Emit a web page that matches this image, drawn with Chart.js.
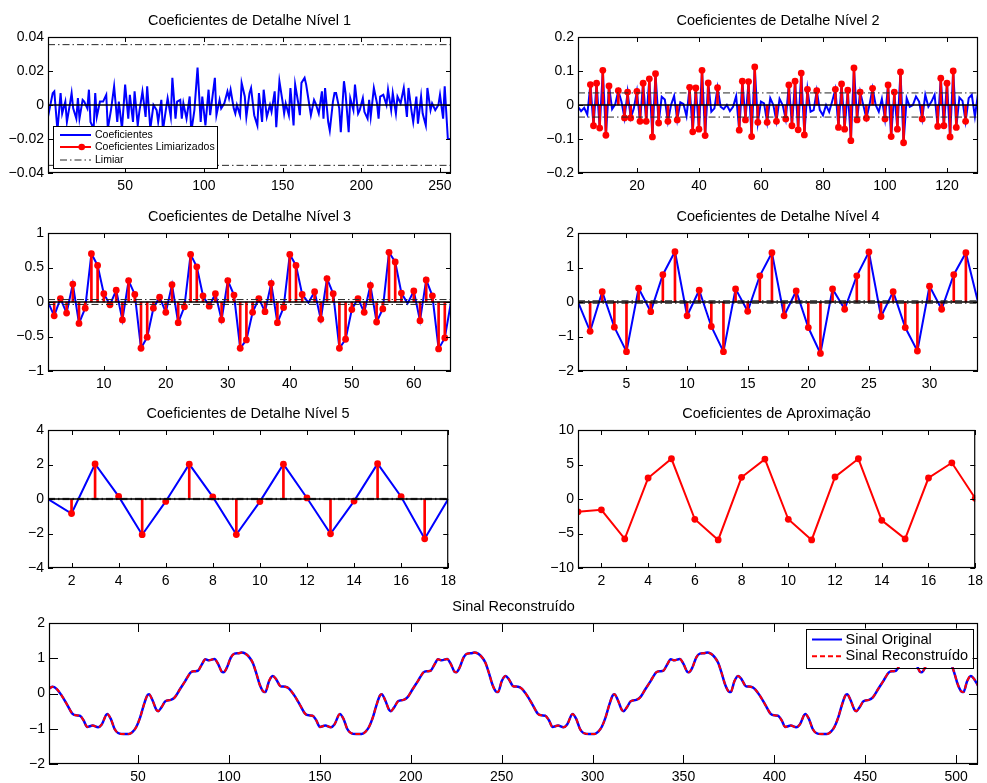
<!DOCTYPE html>
<html>
<head>
<meta charset="utf-8">
<script src="https://cdn.jsdelivr.net/npm/chart.js@4/dist/chart.umd.min.js"></script>
<style>
  html, body { margin: 0; padding: 0; background: #fff; }
  body { width: 987px; height: 783px; position: relative; overflow: hidden; }
  canvas { position: absolute; }
</style>
</head>
<body>
<canvas id="p1"></canvas>
<canvas id="p2"></canvas>
<canvas id="p3"></canvas>
<canvas id="p4"></canvas>
<canvas id="p5"></canvas>
<canvas id="p6"></canvas>
<canvas id="p7"></canvas>
<script>
// ---------------- data ----------------
const limiar = 0.0355;

// detail level 1: [sample, coefficient]
const nivel1 = [
  [1,-0.007],[4,0.007],[5,0.008],[7,-0.015],[9,0.007],[10,-0.005],[12,0.002],[13,-0.010],[15,0.001],[16,0.007],
  [17,-0.002],[19,-0.008],[20,0.004],[21,-0.008],[23,0.003],[24,0.002],[26,-0.002],[27,0.009],[28,-0.010],[30,-0.014],
  [31,0.007],[32,-0.007],[34,0.002],[36,0.002],[38,0.006],[39,-0.014],[41,-0.003],[43,0.011],[45,-0.010],[46,0.002],
  [48,-0.014],[50,0.012],[52,-0.008],[53,0.006],[55,-0.010],[56,0.008],[58,-0.012],[59,-0.004],[61,0.008],[63,-0.007],
  [64,0.011],[66,-0.014],[68,0.000],[70,-0.003],[71,-0.010],[73,0.003],[74,-0.015],[76,-0.002],[77,0.004],[79,-0.007],
  [80,0.016],[82,-0.008],[83,0.002],[85,0.003],[86,-0.008],[87,0.001],[89,-0.008],[91,0.005],[92,-0.016],[94,-0.003],
  [96,0.022],[98,-0.010],[99,0.005],[101,-0.012],[103,0.009],[104,-0.006],[107,0.016],[108,-0.006],[110,0.003],[111,-0.002],
  [113,0.001],[115,0.008],[116,0.004],[117,0.009],[119,-0.002],[120,-0.005],[121,0.000],[123,-0.006],[124,0.013],[126,0.005],
  [127,-0.007],[129,0.007],[130,0.010],[132,-0.006],[134,-0.012],[135,0.007],[137,-0.010],[138,0.009],[140,-0.007],[142,0.000],
  [143,-0.004],[145,0.008],[146,-0.013],[148,0.014],[150,0.002],[151,-0.005],[152,0.001],[154,-0.006],[155,0.010],[157,-0.012],
  [158,0.012],[160,0.001],[161,-0.006],[162,0.013],[164,0.016],[165,0.012],[167,0.000],[168,-0.006],[170,0.003],[171,0.001],
  [173,-0.005],[175,0.008],[176,-0.008],[177,0.010],[179,-0.010],[180,-0.015],[182,0.002],[183,0.007],[184,0.007],[186,-0.002],
  [187,-0.016],[189,0.014],[190,0.007],[192,-0.016],[193,0.004],[195,-0.003],[196,0.012],[198,-0.005],[199,-0.003],[201,0.004],
  [202,-0.004],[204,-0.008],[205,0.003],[206,-0.007],[208,0.010],[210,0.001],[211,-0.008],[212,0.005],[214,0.006],[216,0.000],
  [217,0.009],[219,-0.003],[220,0.007],[222,-0.005],[223,0.005],[225,0.001],[227,0.010],[229,-0.007],[230,0.010],[232,-0.004],
  [233,-0.010],[235,0.005],[236,-0.011],[238,0.005],[239,-0.005],[241,-0.012],[242,0.010],[244,-0.003],[245,0.001],[247,-0.003],
  [249,0.000],[250,0.006],[252,-0.008],[253,0.011],[255,-0.020],[257,-0.020]
];

// detail level 2 (130 coefficients)
const nivel2 = [
  -0.005,-0.018,-0.008,-0.028,0.060,-0.061,0.064,-0.068,0.102,-0.089,
  0.056,-0.012,0.002,0.042,0.010,-0.038,0.038,-0.038,-0.010,0.040,
  -0.048,0.064,-0.048,0.077,-0.094,0.092,-0.053,0.024,0.016,-0.048,
  0.000,0.027,-0.044,0.008,0.003,-0.033,0.052,-0.079,0.050,-0.071,
  0.102,-0.090,0.065,-0.020,-0.010,0.051,-0.005,-0.012,0.000,-0.018,
  -0.005,0.026,-0.074,0.070,-0.044,0.069,-0.093,0.112,-0.051,0.010,
  0.005,-0.051,0.020,0.000,-0.048,0.018,0.000,-0.041,0.059,-0.061,
  0.070,-0.073,0.094,-0.088,0.046,-0.020,-0.015,0.042,-0.015,-0.030,
  0.000,-0.020,0.012,0.046,-0.066,0.062,-0.071,0.044,-0.105,0.109,
  -0.044,0.038,0.000,-0.039,0.000,0.049,0.000,-0.020,0.018,-0.041,
  0.059,-0.093,0.038,-0.071,0.097,-0.111,0.020,-0.005,0.000,0.025,
  0.010,-0.041,0.030,-0.005,0.010,0.030,-0.063,0.079,-0.061,0.064,
  -0.094,0.100,-0.066,0.022,0.012,-0.048,0.020,0.030,-0.034,0.033
];

// detail level 3 (66 coefficients)
const nivel3 = [
  0,-0.20,0.05,-0.16,0.26,-0.31,-0.09,0.70,0.53,0.12,
  -0.04,0.17,-0.26,0.31,0.11,-0.67,-0.51,-0.09,0.07,-0.15,
  0.25,-0.30,-0.07,0.69,0.51,0.09,-0.06,0.12,-0.26,0.31,
  0.10,-0.67,-0.55,-0.15,0.05,-0.14,0.27,-0.30,-0.08,0.69,
  0.53,0.11,-0.01,0.15,-0.25,0.34,0.12,-0.67,-0.54,-0.11,
  0.05,-0.15,0.24,-0.29,-0.10,0.72,0.58,0.13,-0.02,0.16,
  -0.27,0.32,0.09,-0.68,-0.52,0
];

// detail level 4 (34 coefficients)
const nivel4 = [
  0,-0.85,0.30,-0.73,-1.44,0.40,-0.28,0.79,1.46,-0.40,
  0.34,-0.71,-1.44,0.38,-0.27,0.76,1.43,-0.40,0.32,-0.74,
  -1.49,0.38,-0.21,0.76,1.45,-0.42,0.30,-0.74,-1.42,0.46,
  -0.21,0.79,1.43,0
];

// detail level 5 (18 coefficients)
const nivel5 = [0,-0.84,2.03,0.15,-2.07,-0.14,2.02,0.12,-2.06,-0.15,2.02,0.06,-2.02,-0.12,2.05,0.13,-2.31,0];

// approximation (18 coefficients)
const aproximacao = [-1.86,-1.57,-5.78,3.04,5.83,-2.94,-5.93,3.14,5.78,-2.94,-5.93,3.19,5.83,-3.09,-5.78,3.04,5.25,0.10];

// signal: [sample, amplitude]
const sinal = [
  [1,0.14],[3,0.19],[5,0.14],[8,-0.06],[11,-0.32],[14,-0.58],[16,-0.62],[18,-0.63],[20,-0.76],[22,-0.95],
  [25,-0.91],[28,-0.96],[30,-0.88],[33,-0.58],[35,-0.72],[37,-1.00],[39,-1.12],[42,-1.15],[45,-1.15],[47,-1.09],
  [49,-0.95],[51,-0.70],[53,-0.35],[55,-0.06],[56,-0.02],[58,-0.20],[60,-0.46],[61,-0.50],[63,-0.38],[65,-0.22],
  [68,-0.18],[70,-0.12],[73,0.12],[76,0.36],[79,0.60],[81,0.63],[83,0.65],[85,0.82],[87,0.97],[89,0.94],
  [92,0.98],[94,0.84],[96,0.62],[97,0.60],[99,0.75],[101,1.02],[103,1.13],[105,1.14],[107,1.16],[109,1.13],
  [111,1.04],[113,0.88],[115,0.58],[117,0.24],[119,0.05],[120,0.04],[122,0.35],[124,0.50],[126,0.40],[128,0.22],
  [129,0.20],[131,0.19],[133,0.14],[136,-0.06],[139,-0.32],[142,-0.58],[144,-0.62],[146,-0.63],[148,-0.76],[150,-0.95],
  [153,-0.91],[156,-0.96],[158,-0.88],[161,-0.58],[163,-0.72],[165,-1.00],[167,-1.12],[170,-1.15],[173,-1.15],[175,-1.09],
  [177,-0.95],[179,-0.70],[181,-0.35],[183,-0.06],[184,-0.02],[186,-0.20],[188,-0.46],[189,-0.50],[191,-0.38],[193,-0.22],
  [196,-0.18],[198,-0.12],[201,0.12],[204,0.36],[207,0.60],[209,0.63],[211,0.65],[213,0.82],[215,0.97],[217,0.94],
  [220,0.98],[222,0.84],[224,0.62],[225,0.60],[227,0.75],[229,1.02],[231,1.13],[233,1.14],[235,1.16],[237,1.13],
  [239,1.04],[241,0.88],[243,0.58],[245,0.24],[247,0.05],[248,0.04],[250,0.35],[252,0.50],[254,0.40],[256,0.22],
  [257,0.20],[259,0.19],[261,0.14],[264,-0.06],[267,-0.32],[270,-0.58],[272,-0.62],[274,-0.63],[276,-0.76],[278,-0.95],
  [281,-0.91],[284,-0.96],[286,-0.88],[289,-0.58],[291,-0.72],[293,-1.00],[295,-1.12],[298,-1.15],[301,-1.15],[303,-1.09],
  [305,-0.95],[307,-0.70],[309,-0.35],[311,-0.06],[312,-0.02],[314,-0.20],[316,-0.46],[317,-0.50],[319,-0.38],[321,-0.22],
  [324,-0.18],[326,-0.12],[329,0.12],[332,0.36],[335,0.60],[337,0.63],[339,0.65],[341,0.82],[343,0.97],[345,0.94],
  [348,0.98],[350,0.84],[352,0.62],[353,0.60],[355,0.75],[357,1.02],[359,1.13],[361,1.14],[363,1.16],[365,1.13],
  [367,1.04],[369,0.88],[371,0.58],[373,0.24],[375,0.05],[376,0.04],[378,0.35],[380,0.50],[382,0.40],[384,0.22],
  [385,0.20],[387,0.19],[389,0.14],[392,-0.06],[395,-0.32],[398,-0.58],[400,-0.62],[402,-0.63],[404,-0.76],[406,-0.95],
  [409,-0.91],[412,-0.96],[414,-0.88],[417,-0.58],[419,-0.72],[421,-1.00],[423,-1.12],[426,-1.15],[429,-1.15],[431,-1.09],
  [433,-0.95],[435,-0.70],[437,-0.35],[439,-0.06],[440,-0.02],[442,-0.20],[444,-0.46],[445,-0.50],[447,-0.38],[449,-0.22],
  [452,-0.18],[454,-0.12],[457,0.12],[460,0.36],[463,0.60],[465,0.63],[467,0.65],[469,0.82],[471,0.97],[473,0.94],
  [476,0.98],[478,0.84],[480,0.62],[481,0.60],[483,0.75],[485,1.02],[487,1.13],[489,1.14],[491,1.16],[493,1.13],
  [495,1.04],[497,0.88],[499,0.58],[501,0.24],[503,0.05],[504,0.04],[506,0.35],[508,0.50],[510,0.40],[512,0.22]
];

// axis ranges and tick values
const xTicks1 = [50,100,150,200,250],  yTicks1 = [-0.04,-0.02,0,0.02,0.04];
const xTicks2 = [20,40,60,80,100,120], yTicks2 = [-0.2,-0.1,0,0.1,0.2];
const xTicks3 = [10,20,30,40,50,60],   yTicks3 = [-1,-0.5,0,0.5,1];
const xTicks4 = [5,10,15,20,25,30],    yTicks4 = [-2,-1,0,1,2];
const xTicks5 = [2,4,6,8,10,12,14,16,18], yTicks5 = [-4,-2,0,2,4];
const xTicks6 = [2,4,6,8,10,12,14,16,18], yTicks6 = [-10,-5,0,5,10];
const xTicks7 = [50,100,150,200,250,300,350,400,450,500], yTicks7 = [-2,-1,0,1,2];

// ---------------- styling helpers ----------------
const FONT = "'Liberation Sans', Arial, Helvetica, sans-serif";
const BLUE = '#0000ff', RED = '#ff0000', GREY = '#262626';
const DASHDOT = [7, 3, 1.5, 3];

const fmt = v => {
  const s = String(+Math.abs(v).toFixed(4));
  return v < 0 ? '\u2212' + s : s;
};

const indexed = arr => arr.map((v, i) => ({ x: i + 1, y: v }));
const pairs = arr => arr.map(p => ({ x: p[0], y: p[1] }));
const kept = pts => pts.filter(p => Math.abs(p.y) > limiar);

// axes frame with inward tick marks on all four sides
const frame = {
  id: 'frame',
  afterDatasetsDraw(chart, args, o) {
    const { ctx, chartArea: a, scales: { x, y } } = chart;
    const len = o.len || 5;
    ctx.save();
    ctx.strokeStyle = '#000';
    ctx.lineWidth = 1;
    ctx.beginPath();
    x.ticks.forEach(t => {
      const p = Math.round(x.getPixelForValue(t.value)) + 0.5;
      ctx.moveTo(p, a.bottom); ctx.lineTo(p, a.bottom - len);
      ctx.moveTo(p, a.top); ctx.lineTo(p, a.top + len);
    });
    y.ticks.forEach(t => {
      const p = Math.round(y.getPixelForValue(t.value)) + 0.5;
      ctx.moveTo(a.left, p); ctx.lineTo(a.left + len, p);
      ctx.moveTo(a.right, p); ctx.lineTo(a.right - len, p);
    });
    ctx.stroke();
    ctx.lineWidth = 1.2;
    ctx.strokeRect(a.left + 0.5, a.top + 0.5, a.right - a.left - 1, a.bottom - a.top - 1);
    ctx.restore();
  }
};

// boxed legend inside the axes
const boxLegend = {
  id: 'boxLegend',
  afterDraw(chart, args, o) {
    if (!o || !o.items) return;
    const { ctx, chartArea: a } = chart;
    const left = o.corner === 'sw' ? a.left + o.inset : a.right - o.inset - o.w;
    const top = o.corner === 'sw' ? a.bottom - o.inset - o.h : a.top + o.inset;
    ctx.save();
    ctx.fillStyle = '#fff';
    ctx.fillRect(left, top, o.w, o.h);
    ctx.strokeStyle = '#000';
    ctx.lineWidth = 1;
    ctx.strokeRect(Math.round(left) + 0.5, Math.round(top) + 0.5, Math.round(o.w), Math.round(o.h));
    ctx.font = o.fontSize + 'px ' + FONT;
    ctx.textBaseline = 'middle';
    o.items.forEach((it, i) => {
      const yy = top + o.rows[i];
      const x0 = left + o.sample[0], x1 = left + o.sample[1];
      ctx.strokeStyle = it.color;
      ctx.lineWidth = it.width;
      ctx.setLineDash(it.dash || []);
      ctx.beginPath(); ctx.moveTo(x0, yy); ctx.lineTo(x1, yy); ctx.stroke();
      ctx.setLineDash([]);
      if (it.marker) {
        ctx.fillStyle = it.color;
        ctx.beginPath(); ctx.arc(x0 + 0.7 * (x1 - x0), yy, 3.3, 0, Math.PI * 2); ctx.fill();
      }
      ctx.fillStyle = '#000';
      ctx.fillText(it.label, left + o.textX, yy);
    });
    ctx.restore();
  }
};

// ---------------- one panel ----------------
function panel(id, box, title, datasets, xRange, xTicks, yRange, yTicks, extra) {
  const PADL = 50, PADT = 37, PADR = 10, PADB = 28;
  const cv = document.getElementById(id);
  const w = box.R - box.L + PADL + PADR;
  const h = box.B - box.T + PADT + PADB;
  cv.width = w; cv.height = h;
  cv.style.width = w + 'px'; cv.style.height = h + 'px';
  cv.style.left = (box.L - PADL) + 'px';
  cv.style.top = (box.T - PADT) + 'px';
  const tickFont = { family: FONT, size: 14 };
  return new Chart(cv, {
    type: 'line',
    data: { datasets },
    options: {
      responsive: false,
      animation: false,
      events: [],
      layout: { padding: { left: 0, right: PADR, top: 0, bottom: 0 } },
      plugins: {
        legend: { display: false },
        tooltip: { enabled: false },
        title: {
          display: true, text: title, fullSize: false, color: '#000',
          font: { family: FONT, size: 14.5, weight: 'normal', lineHeight: 1.2 },
          padding: { top: 12.3, bottom: 7.3 }
        },
        frame: { len: extra.tickLen || 5 },
        boxLegend: extra.legend || {}
      },
      scales: {
        x: {
          type: 'linear', min: xRange[0], max: xRange[1], offset: false,
          grid: { display: false, drawTicks: false }, border: { display: false },
          ticks: { font: tickFont, color: '#000', padding: 5, maxRotation: 0, autoSkip: false, callback: v => fmt(v) },
          afterBuildTicks: s => { s.ticks = xTicks.map(v => ({ value: v })); },
          afterFit: s => { s.height = PADB; }
        },
        y: {
          type: 'linear', min: yRange[0], max: yRange[1],
          grid: { display: false, drawTicks: false }, border: { display: false },
          ticks: { font: tickFont, color: '#000', padding: 4, autoSkip: false, callback: v => fmt(v) },
          afterBuildTicks: s => { s.ticks = yTicks.map(v => ({ value: v })); },
          afterFit: s => { s.width = PADL; }
        }
      }
    },
    plugins: [frame, boxLegend]
  });
}

// datasets shared by the detail panels
function detailSets(pts, xMax) {
  const th = kept(pts);
  return [
    { label: 'zero', data: [{ x: 1, y: 0 }, { x: xMax, y: 0 }], borderColor: '#000', borderWidth: 1.5, pointRadius: 0, order: 0 },
    { label: 'Limiar', data: [{ x: 1, y: limiar }, { x: xMax, y: limiar }], borderColor: GREY, borderWidth: 1, borderDash: DASHDOT, pointRadius: 0, order: 1 },
    { label: 'Limiar', data: [{ x: 1, y: -limiar }, { x: xMax, y: -limiar }], borderColor: GREY, borderWidth: 1, borderDash: DASHDOT, pointRadius: 0, order: 1 },
    { label: 'Coeficientes Limiarizados', data: th, showLine: false, pointRadius: 3.4, pointBackgroundColor: RED, pointBorderColor: RED, pointBorderWidth: 0, order: 2 },
    { type: 'bar', label: 'Coeficientes Limiarizados', data: th, backgroundColor: RED, barThickness: 2, grouped: false, order: 3 },
    { label: 'Coeficientes', data: pts, borderColor: BLUE, borderWidth: 2, pointRadius: 0, tension: 0, order: 4 }
  ];
}

const LEFT = { L: 48, R: 451 }, RIGHT = { L: 578, R: 978 };
const ROW1 = { T: 37, B: 173 }, ROW2 = { T: 233, B: 371 }, ROW3 = { T: 430, B: 568 };

panel('p1', { ...LEFT, ...ROW1 }, 'Coeficientes de Detalhe N\u00edvel 1',
  detailSets(pairs(nivel1), 257), [1, 257], xTicks1, [-0.04, 0.04], yTicks1, {
    legend: {
      corner: 'sw', inset: 5, w: 164, h: 42, fontSize: 10.5,
      rows: [9, 21, 34], sample: [7, 38], textX: 42,
      items: [
        { label: 'Coeficientes', color: BLUE, width: 2 },
        { label: 'Coeficientes Limiarizados', color: RED, width: 2, marker: true },
        { label: 'Limiar', color: GREY, width: 1, dash: DASHDOT }
      ]
    }
  });

panel('p2', { ...RIGHT, ...ROW1 }, 'Coeficientes de Detalhe N\u00edvel 2',
  detailSets(indexed(nivel2), 130), [1, 130], xTicks2, [-0.2, 0.2], yTicks2, {});

panel('p3', { ...LEFT, ...ROW2 }, 'Coeficientes de Detalhe N\u00edvel 3',
  detailSets(indexed(nivel3), 66), [1, 66], xTicks3, [-1, 1], yTicks3, {});

panel('p4', { ...RIGHT, ...ROW2 }, 'Coeficientes de Detalhe N\u00edvel 4',
  detailSets(indexed(nivel4), 34), [1, 34], xTicks4, [-2, 2], yTicks4, {});

panel('p5', { ...LEFT, ...ROW3 }, 'Coeficientes de Detalhe N\u00edvel 5',
  detailSets(indexed(nivel5), 18), [1, 18], xTicks5, [-4, 4], yTicks5, {});

panel('p6', { ...RIGHT, ...ROW3 }, 'Coeficientes de Aproxima\u00e7\u00e3o', [
  { label: 'Aproxima\u00e7\u00e3o', data: indexed(aproximacao), borderColor: RED, borderWidth: 2, tension: 0,
    pointRadius: 3.4, pointBackgroundColor: RED, pointBorderColor: RED, pointBorderWidth: 0 }
], [1, 18], xTicks6, [-10, 10], yTicks6, {});

panel('p7', { L: 49, R: 978, T: 623, B: 764 }, 'Sinal Reconstru\u00eddo', [
  { label: 'Sinal Reconstru\u00eddo', data: pairs(sinal), borderColor: RED, borderWidth: 2, borderDash: [5, 3],
    pointRadius: 0, cubicInterpolationMode: 'monotone', order: 0 },
  { label: 'Sinal Original', data: pairs(sinal), borderColor: BLUE, borderWidth: 2.5,
    pointRadius: 0, cubicInterpolationMode: 'monotone', order: 1 }
], [1, 512], xTicks7, [-2, 2], yTicks7, {
  tickLen: 9,
  legend: {
    corner: 'ne', inset: 5.5, w: 167, h: 38.5, fontSize: 14.5,
    rows: [11, 27.7], sample: [6.5, 36.5], textX: 40,
    items: [
      { label: 'Sinal Original', color: BLUE, width: 2 },
      { label: 'Sinal Reconstru\u00eddo', color: RED, width: 2, dash: [5, 3] }
    ]
  }
});
</script>
</body>
</html>
